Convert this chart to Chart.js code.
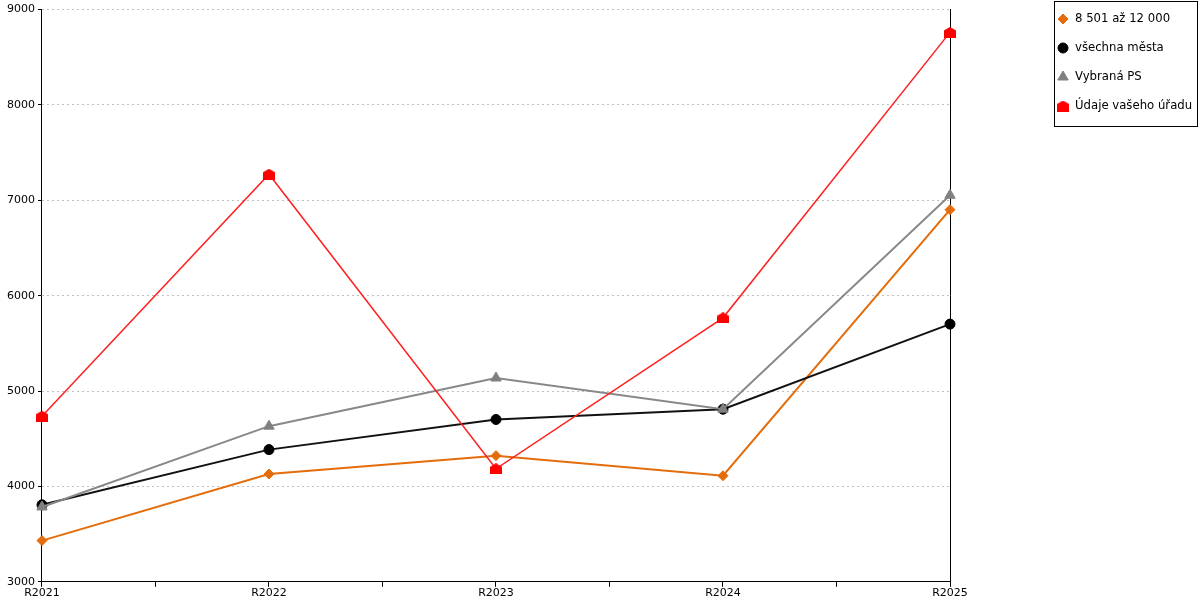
<!DOCTYPE html>
<html>
<head>
<meta charset="utf-8">
<script src="https://cdn.jsdelivr.net/npm/chart.js@4"></script>
<style>
html, body { margin: 0; padding: 0; background: #fff; }
#wrap { width: 1200px; height: 600px; }
</style>
</head>
<body>
<div id="wrap"><canvas id="chart"></canvas></div>
<script>
const years = ['R2021', 'R2022', 'R2023', 'R2024', 'R2025'];
const sizeGroupValues = [3432, 4130, 4323, 4112, 6902];
const allCitiesValues = [3807, 4386, 4702, 4810, 5702];
const selectedValues = [3785, 4632, 5137, 4810, 7053];
const officeValues = [4737, 7274, 4185, 5768, 8761];
const seriesNames = ['8 501 až 12 000', 'všechna města', 'Vybraná PS', 'Údaje vašeho úřadu'];
const yMin = 3000;
const yMax = 9000;
const yStep = 1000;

Chart.defaults.font.family = '"DejaVu Sans", Verdana, sans-serif';
Chart.defaults.font.size = 11;
Chart.defaults.color = '#000';

// little "house" marker for the office series
const house = document.createElement('canvas');
house.width = 12;
house.height = 11;
const hctx = house.getContext('2d');
hctx.fillStyle = '#ff0000';
hctx.beginPath();
hctx.moveTo(0, 3.5);
hctx.lineTo(6, 0);
hctx.lineTo(12, 3.5);
hctx.lineTo(12, 11);
hctx.lineTo(0, 11);
hctx.closePath();
hctx.fill();

const toPoints = vals => vals.map((v, i) => ({ x: i, y: v }));

// legend drawn as a framed box to the right of the plot
const boxLegend = {
    id: 'boxLegend',
    afterDraw(chart) {
        const ctx = chart.ctx;
        const left = 1054.5, top = 1.5, w = 143, h = 125;
        ctx.save();
        ctx.strokeStyle = '#000';
        ctx.lineWidth = 1;
        ctx.strokeRect(left, top, w, h);
        ctx.font = '11.7px "DejaVu Sans", Verdana, sans-serif';
        ctx.textBaseline = 'middle';
        chart.data.datasets.forEach((ds, i) => {
            const y = 19 + i * 29;
            ctx.fillStyle = ds.pointBackgroundColor;
            ctx.strokeStyle = ds.pointBorderColor;
            Chart.helpers.drawPoint(ctx, {
                pointStyle: ds.pointStyle,
                radius: ds.pointRadius,
                borderWidth: ds.pointBorderWidth,
                rotation: 0
            }, 1063, y);
            ctx.fillStyle = '#000';
            ctx.fillText(ds.label, 1075, y);
        });
        ctx.restore();
    }
};

new Chart(document.getElementById('chart'), {
    type: 'line',
    data: {
        datasets: [
            {
                label: seriesNames[0],
                data: toPoints(sizeGroupValues),
                borderColor: '#e46c0a',
                borderWidth: 2,
                pointStyle: 'rectRot',
                pointRadius: 5,
                pointBackgroundColor: '#e46c0a',
                pointBorderColor: '#e46c0a',
                pointBorderWidth: 1,
                clip: false,
                order: 4
            },
            {
                label: seriesNames[1],
                data: toPoints(allCitiesValues),
                borderColor: '#111',
                borderWidth: 2,
                pointStyle: 'circle',
                pointRadius: 5,
                pointBackgroundColor: '#000',
                pointBorderColor: '#000',
                pointBorderWidth: 1,
                clip: false,
                order: 3
            },
            {
                label: seriesNames[2],
                data: toPoints(selectedValues),
                borderColor: '#888',
                borderWidth: 2,
                pointStyle: 'triangle',
                pointRadius: 6,
                pointBackgroundColor: '#808080',
                pointBorderColor: '#808080',
                pointBorderWidth: 1,
                clip: false,
                order: 2
            },
            {
                label: seriesNames[3],
                data: toPoints(officeValues),
                borderColor: '#ff2020',
                borderWidth: 1.5,
                pointStyle: house,
                pointRadius: 6,
                pointBackgroundColor: '#ff0000',
                pointBorderColor: '#ff0000',
                pointBorderWidth: 0,
                clip: false,
                order: 1
            }
        ]
    },
    options: {
        responsive: true,
        maintainAspectRatio: false,
        animation: false,
        layout: { padding: { left: 4, right: 250, top: 4, bottom: 0 } },
        plugins: {
            legend: { display: false },
            tooltip: { enabled: false }
        },
        scales: {
            x: {
                type: 'linear',
                min: 0,
                max: years.length - 1,
                ticks: {
                    stepSize: 0.5,
                    autoSkip: false,
                    maxRotation: 0,
                    padding: 0,
                    callback: v => Number.isInteger(v) ? years[v] : ''
                },
                grid: {
                    drawOnChartArea: false,
                    tickLength: 5,
                    tickColor: '#000'
                },
                border: { color: '#000', width: 1 }
            },
            y: {
                min: yMin,
                max: yMax,
                ticks: { stepSize: yStep, padding: 3, callback: v => String(v) },
                grid: {
                    color: '#c0c0c0',
                    tickColor: '#000',
                    tickLength: 4
                },
                border: { color: '#000', width: 1, dash: [2, 3] }
            },
            yRight: {
                position: 'right',
                display: true,
                min: yMin,
                max: yMax,
                ticks: { display: false },
                grid: { drawOnChartArea: false, drawTicks: false },
                border: { color: '#000', width: 1 }
            }
        }
    },
    plugins: [boxLegend]
});
</script>
</body>
</html>
